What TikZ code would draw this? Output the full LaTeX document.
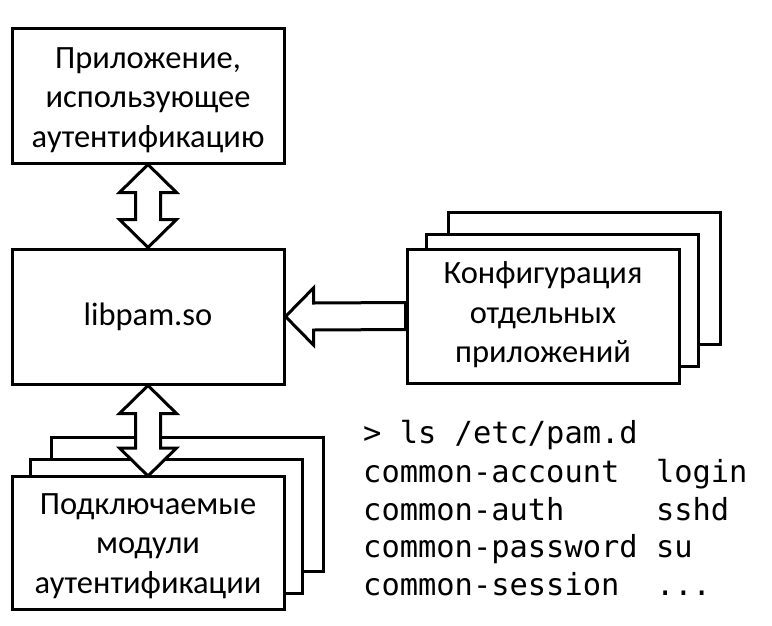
\documentclass[tikz,border=0pt]{standalone}
\usepackage{fontspec}
\setmainfont{Carlito}
\newfontfamily\monofont{DejaVu Sans Mono}
\usetikzlibrary{calc}
\begin{document}
\begin{tikzpicture}[x=1pt,y=-1pt,
  box/.style={draw=black,line width=3pt,fill=white,inner sep=0pt},
  fat/.style={draw=black,line width=3pt,fill=white,line join=miter},
  lbl/.style={align=center,font=\fontsize{32.5}{39.5}\selectfont,inner sep=0pt},
  mono/.style={anchor=base west,inner sep=0pt,font=\monofont\fontsize{30.4}{37.7}\selectfont}]
\useasboundingbox (0,0) rectangle (772,625);
% top application box
\node[box,minimum width=272pt,minimum height=135pt] (app) at (148,95.5) {};
\node[lbl] (apptxt) at (148,100) {Приложение,\\использующее\\аутентификацию};
% libpam
\node[box,minimum width=272pt,minimum height=135pt] (lib) at (148,316.5) {};
\node[lbl] (libtxt) at (148,317) {libpam.so};
% config stack
\node[box,minimum width=272pt,minimum height=132pt] (cfg3) at (584,278) {};
\node[box,minimum width=272pt,minimum height=132pt] (cfg2) at (562,300.5) {};
\node[box,minimum width=272pt,minimum height=134pt] (cfg) at (543,316) {};
\node[lbl] (cfgtxt) at (543,315) {Конфигурация\\отдельных\\приложений};
% modules stack
\node[box,minimum width=272pt,minimum height=134pt] (mod3) at (187.5,504) {};
\node[box,minimum width=272pt,minimum height=134pt] (mod2) at (166.5,526) {};
% double arrow app <-> lib
\draw[fat] (app.south) -- ++(28.5,28) -- ++(-16,0) -- ($(lib.north)+(12.5,-28)$) -- ++(16,0)
  -- (lib.north) -- ++(-28.5,-28) -- ++(16,0) -- ($(app.south)+(-12.5,28)$) -- ++(-16,0) -- cycle;
% double arrow lib <-> modules
\coordinate (modtop) at (148,476);
\draw[fat] (lib.south) -- ++(28.5,28) -- ++(-16,0) -- ($(modtop)+(12.5,-28)$) -- ++(16,0)
  -- (modtop) -- ++(-28.5,-28) -- ++(16,0) -- ($(lib.south)+(-12.5,28)$) -- ++(-16,0) -- cycle;
\node[box,minimum width=272pt,minimum height=133pt] (mod) at (148,542.5) {};
\node[lbl] (modtxt) at (148,546) {Подключаемые\\модули\\аутентификации};
% arrow cfg -> lib
\draw[fat] (lib.east) -- ++(28,-28.5) -- ++(0,15) -- ($(cfg.west)+(0,-13.5)$)
  -- ($(cfg.west)+(0,13.5)$) -- ($(lib.east)+(28,13.5)$) -- ++(0,15) -- cycle;
% listing
\node[mono] (l1) at (363,443) {> ls /etc/pam.d};
\node[mono] (l2) at (363,482) {common-account\ \ login};
\node[mono] (l3) at (363,520) {common-auth\ \ \ \ \ sshd};
\node[mono] (l4) at (363,557) {common-password su};
\node[mono] (l5) at (363,595) {common-session\ \ ...};
\end{tikzpicture}
\end{document}
